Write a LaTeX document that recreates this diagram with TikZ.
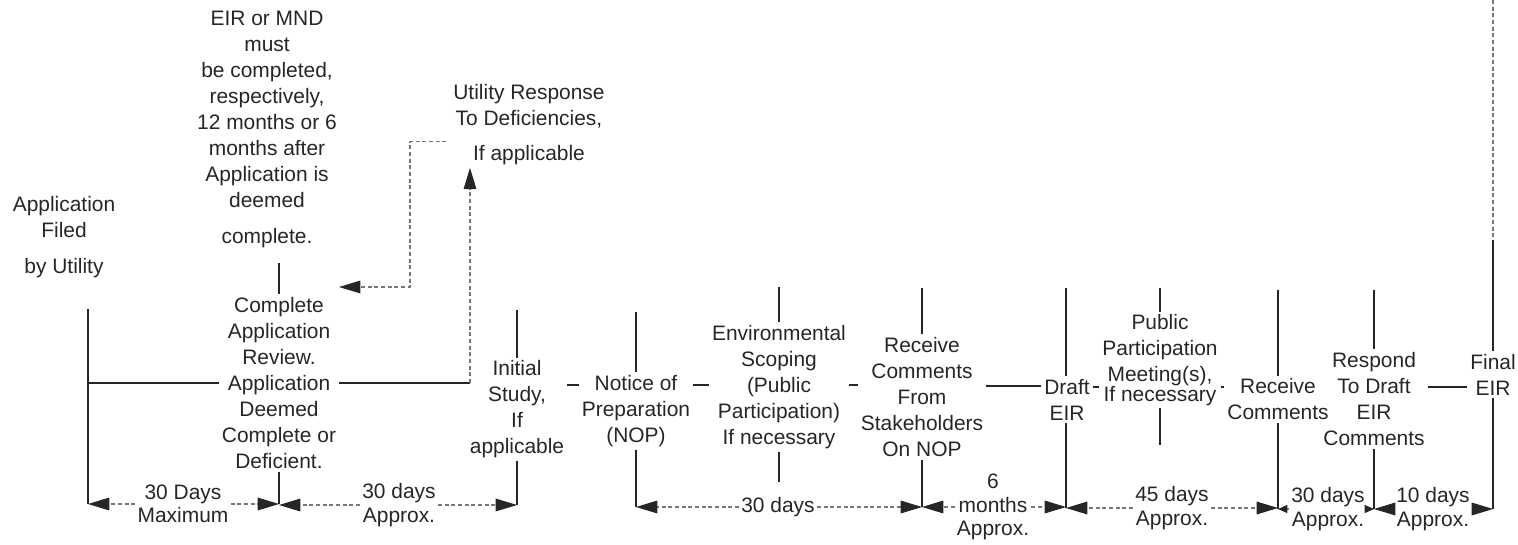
\documentclass[tikz,border=0pt]{standalone}
\usepackage{fontspec}
\setmainfont{Liberation Sans}
\usetikzlibrary{arrows.meta}
\definecolor{ink}{HTML}{262626}
\definecolor{dashc}{HTML}{777777}
\begin{document}
\begin{tikzpicture}[x=0.75pt,y=-0.75pt,
  lbl/.style={align=center, font=\fontsize{15.7}{19.5}\selectfont, text=ink, inner sep=2pt},
  dlbl/.style={align=center, font=\fontsize{15.7}{17.5}\selectfont, text=ink, inner sep=1.5pt},
  solidln/.style={draw=ink, line width=1.3pt},
  dashln/.style={draw=dashc, line width=0.8pt, dash pattern=on 3pt off 2pt},
  bigtip/.style={-{Triangle[length=16pt,width=9.5pt,color=ink]}},
  smalltip/.style={-{Triangle[length=7pt,width=6pt,color=ink]}}
]
\useasboundingbox (0,0) rectangle (1518,544);

% ---------- text nodes ----------
\node[lbl] (filed) at (64,237) {Application\\Filed\\[8pt]by Utility};
\node[lbl] (eir) at (267,129) {EIR or MND\\must\\be completed,\\respectively,\\12 months or 6\\months after\\Application is\\deemed\\[7.5pt]complete.};
\node[lbl] (utility) at (529,124.5) {Utility Response\\To Deficiencies,\\[7pt]If applicable};
\node[lbl] (review) at (279,383) {Complete\\Application\\Review.\\Application\\Deemed\\Complete or\\Deficient.};
\node[lbl] (initial) at (517,409.5) {Initial\\Study,\\If\\applicable};
\node[lbl] (nop) at (636,411) {Notice of\\Preparation\\(NOP)};
\node[lbl] (scoping) at (779,387) {Environmental\\Scoping\\(Public\\Participation)\\If necessary};
\node[lbl] (recv1) at (922,397) {Receive\\Comments\\From\\Stakeholders\\On NOP};
\node[lbl] (draft) at (1067,399.5) {Draft\\EIR};
\node[lbl] (public) at (1160,360) {Public\\Participation\\Meeting(s),\\[-5pt]If necessary};
\node[lbl] (recv2) at (1278,399.5) {Receive\\Comments};
\node[lbl] (respond) at (1374,399) {Respond\\To Draft\\EIR\\Comments};
\node[lbl] (final) at (1493,374.5) {Final\\EIR};

% ---------- named free ends ----------
\coordinate (ltop) at (88,309);
\coordinate (lrow) at (88,383);
\coordinate (b88) at (88,504);
\coordinate (b279) at (279,504);
\coordinate (b517) at (517,505);
\coordinate (b636) at (636,507);
\coordinate (b922) at (922,507);
\coordinate (b1067) at (1066,508);
\coordinate (b1278) at (1278,509);
\coordinate (b1374) at (1374,509);
\coordinate (b1493) at (1493,509);
\coordinate (turn) at (470,383);
\coordinate (jog) at (410,287);
\coordinate (eirtip) at (339,287);
\coordinate (ftop) at (1493,0);
\coordinate (fmid) at (1493,240);

% ---------- main row ----------
\draw[solidln] (ltop) -- (b88);
\draw[solidln] (lrow) -- (review.west);
\draw[solidln] (review.east) -- (turn);
\draw[dashln,bigtip] (turn) -- (turn |- utility.south);
\draw[dashln,bigtip] ([xshift=-3pt,yshift=-13pt]utility.west) -| (jog) -- (eirtip);

\draw[solidln] (initial.east |- 0,385) -- (nop.west |- 0,385);
\draw[solidln] (nop.east |- 0,385) -- (scoping.west |- 0,385);
\draw[solidln] (scoping.east |- 0,385) -- (recv1.west |- 0,385);
\draw[solidln] (recv1.east |- 0,386) -- (draft.west |- 0,386);
\draw[solidln] (draft.east |- 0,387) -- (public.west |- 0,387);
\draw[solidln] (public.east |- 0,387) -- (recv2.west |- 0,387);
\draw[solidln] (respond.east |- 0,387) -- (final.west |- 0,387);
\draw[dashln] (final.east |- 0,387) -- ++(5,0);

% ---------- verticals ----------
\draw[solidln] (review.north |- 0,263) -- (review.north);
\draw[solidln] (review.south) -- (b279);
\draw[solidln] (initial.north |- 0,310) -- (initial.north);
\draw[solidln] (initial.south) -- (b517);
\draw[solidln] (nop.north |- 0,312) -- (nop.north);
\draw[solidln] (nop.south) -- (b636);
\draw[solidln] (scoping.north |- 0,287) -- (scoping.north);
\draw[solidln] (scoping.south) -- (scoping.south |- 0,482);
\draw[solidln] (recv1.north |- 0,288) -- (recv1.north);
\draw[solidln] (recv1.south) -- (b922);
\draw[solidln] (b1067 |- 0,288) -- (b1067 |- draft.north);
\draw[solidln] (b1067 |- draft.south) -- (b1067);
\draw[solidln] (public.north |- 0,288) -- (public.north);
\draw[solidln] (public.south) -- (public.south |- 0,445);
\draw[solidln] (recv2.north |- 0,290) -- (recv2.north);
\draw[solidln] (recv2.south) -- (b1278);
\draw[solidln] (respond.north |- 0,290) -- (respond.north);
\draw[solidln] (respond.south) -- (b1374);
\draw[dashln] (ftop) -- (fmid);
\draw[solidln] (fmid) -- (final.north);
\draw[solidln] (final.south) -- (b1493);

% ---------- durations ----------
\node[dlbl] (d1) at (183,504) {30 Days\\Maximum};
\draw[dashln,bigtip] (d1.west) -- (b88);
\draw[dashln,bigtip] (d1.east) -- (b279);

\node[dlbl] (d2) at (399,505) {30 days\\Approx.};
\draw[dashln,bigtip] (d2.west) -- (b279 |- d2);
\draw[dashln,bigtip] (d2.east) -- (b517);

\node[dlbl] (d3) at (778,507) {30 days};
\draw[dashln,bigtip] (d3.west) -- (b636);
\draw[dashln,bigtip] (d3.east) -- (b922);

\node[dlbl] (d4) at (993,507) {6\\months\\Approx.};
\draw[dashln,bigtip] (d4.west) -- (b922);
\draw[dashln,bigtip] (d4.east) -- (b1067 |- d4);

\node[dlbl] (d5) at (1172,508) {45 days\\Approx.};
\draw[dashln,bigtip] (d5.west) -- (b1067);
\draw[dashln,bigtip] (d5.east) -- (b1278 |- d5);

\node[dlbl] (d6) at (1328,509) {30 days\\Approx.};
\draw[dashln,smalltip] (d6.west) -- (b1278);
\draw[dashln,smalltip] (d6.east) -- (b1374);

\node[dlbl] (d7) at (1433,509) {10 days\\Approx.};
\draw[dashln,bigtip] (d7.west) -- (b1374);
\draw[dashln,bigtip] (d7.east) -- (b1493);
\end{tikzpicture}
\end{document}
